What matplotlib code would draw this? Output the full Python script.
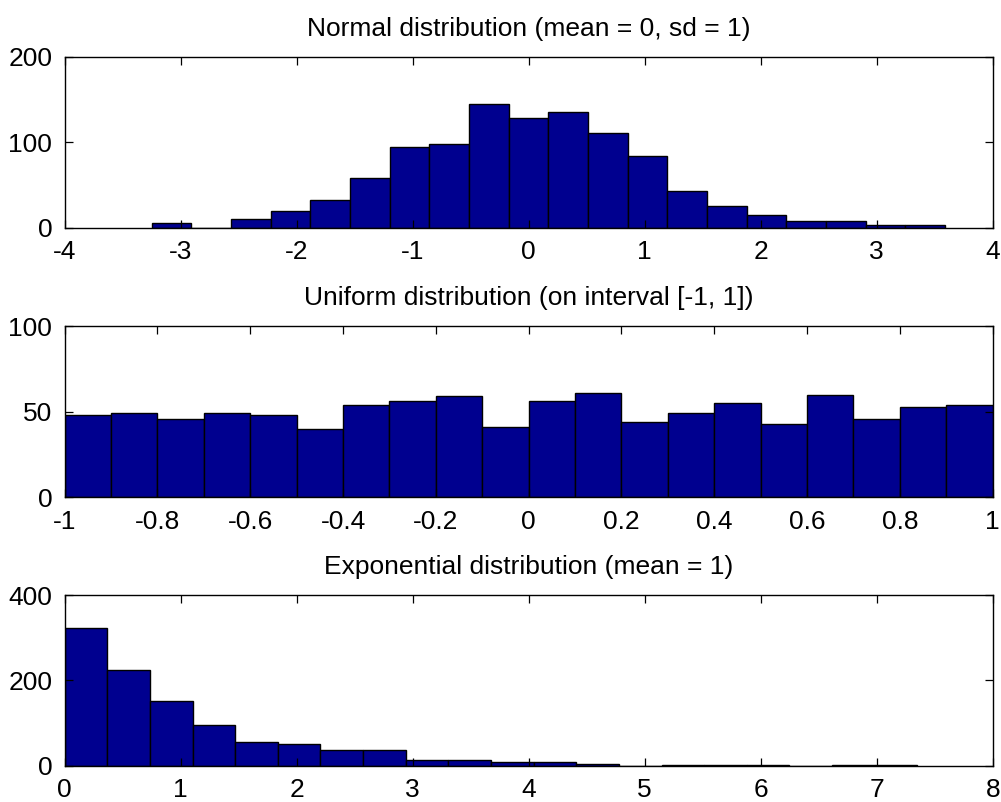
import numpy as np
import matplotlib.pyplot as plt

plt.rcParams['font.family'] = ['Liberation Sans Narrow', 'Liberation Sans', 'DejaVu Sans']
plt.rcParams['axes.unicode_minus'] = False

# normal: 20 bins between sample min and max
normal_range = (-3.25, 3.59)
normal_counts = [5, 0, 10, 20, 33, 58, 95, 98, 145, 128,
                 135, 111, 84, 43, 25, 15, 8, 8, 3, 3]

# uniform: 20 bins on [-1, 1]
uniform_range = (-1.0, 1.0)
uniform_counts = [48, 49, 46, 49, 48, 40, 54, 56, 59, 41,
                  56, 61, 44, 49, 55, 43, 60, 46, 53, 54]

# exponential: 20 bins between sample min and max
expo_range = (0.0, 7.35)
expo_counts = [322, 225, 152, 96, 57, 51, 37, 37, 15, 15,
               10, 10, 4, 0, 2, 2, 2, 0, 2, 2]

titles = ['Normal distribution (mean = 0, sd = 1)',
          'Uniform distribution (on interval [-1, 1])',
          'Exponential distribution (mean = 1)']

normal_xticks = [-4, -3, -2, -1, 0, 1, 2, 3, 4]
uniform_xticks = [-1, -0.8, -0.6, -0.4, -0.2, 0, 0.2, 0.4, 0.6, 0.8, 1]
uniform_xlabels = ['-1', '-0.8', '-0.6', '-0.4', '-0.2', '0', '0.2', '0.4', '0.6', '0.8', '1']
expo_xticks = [0, 1, 2, 3, 4, 5, 6, 7, 8]

normal_yticks = [0, 100, 200]
uniform_yticks = [0, 50, 100]
expo_yticks = [0, 200, 400]

fig = plt.figure(figsize=(10.01, 8.02), dpi=100)
left, width, height = 0.0646, 0.9271, 0.2132
bottoms = [0.716, 0.380, 0.0449]

panels = [
    (normal_range, normal_counts, (-4, 4), normal_xticks, None, normal_yticks),
    (uniform_range, uniform_counts, (-1, 1), uniform_xticks, uniform_xlabels, uniform_yticks),
    (expo_range, expo_counts, (0, 8), expo_xticks, None, expo_yticks),
]

for i, (rng, counts, xlim, xticks, xlabels, yticks) in enumerate(panels):
    ax = fig.add_axes([left, bottoms[i], width, height])
    edges = np.linspace(rng[0], rng[1], len(counts) + 1)
    ax.bar(edges[:-1], counts, width=np.diff(edges), align='edge',
           color='#00008f', edgecolor='black', linewidth=1.0)
    ax.set_xlim(*xlim)
    ax.set_ylim(yticks[0], yticks[-1])
    ax.set_xticks(xticks)
    if xlabels is not None:
        ax.set_xticklabels(xlabels)
    ax.set_yticks(yticks)
    ax.tick_params(direction='in', length=6, width=0.9, top=True, right=True,
                   labelsize=19, pad=9, colors='black')
    for s in ax.spines.values():
        s.set_linewidth(1.0)
    ax.set_title(titles[i], fontsize=19, pad=15)

fig.savefig('out.png', dpi=100)
